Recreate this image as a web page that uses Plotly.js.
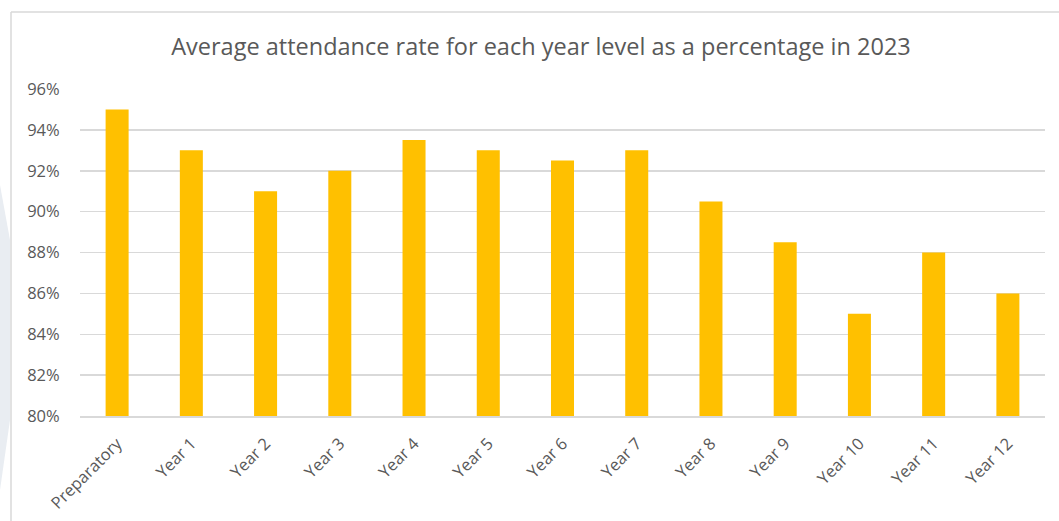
<!DOCTYPE html>
<html>
<head>
<meta charset="utf-8">
<script src="https://cdn.plot.ly/plotly-3.0.1.min.js"></script>
<style>html,body{margin:0;padding:0;background:#fff;}#chart{width:1059px;height:521px;}</style>
</head>
<body>
<div id="chart"></div>
<script>
const categories = ["Preparatory","Year 1","Year 2","Year 3","Year 4","Year 5","Year 6","Year 7","Year 8","Year 9","Year 10","Year 11","Year 12"];
const attendance = [0.95,0.93,0.91,0.92,0.935,0.93,0.925,0.93,0.905,0.885,0.85,0.88,0.86];
const yTicks = [0.80,0.82,0.84,0.86,0.88,0.90,0.92,0.94,0.96];
const titleText = "Average attendance rate for each year level as a percentage in 2023";

const W = 1059, H = 521;
const mL = 80, mR = 14, mT = 89, mB = 105;
const pw = W - mL - mR, ph = H - mT - mB;
function px(x){ return (x - mL) / pw; }
function py(y){ return (H - mB - y) / ph; }

const font = "'Open Sans', 'Noto Sans', sans-serif";

Plotly.newPlot("chart", [{
  type: "bar",
  x: categories,
  y: attendance,
  marker: {color: "#FFC000"},
  hoverinfo: "x+y"
}], {
  width: W, height: H,
  margin: {l: mL, r: mR, t: mT, b: mB, pad: 0},
  paper_bgcolor: "#ffffff",
  plot_bgcolor: "#ffffff",
  bargap: 0.69,
  showlegend: false,
  title: {
    text: titleText,
    font: {family: font, size: 23.5, color: "#595959"},
    x: px(541), xanchor: "center", xref: "paper",
    y: 1 - 47 / H, yanchor: "middle"
  },
  xaxis: {
    type: "category",
    tickangle: -45,
    tickfont: {family: font, size: 16.5, color: "#595959"},
    showgrid: false,
    showline: true, linecolor: "#d9d9d9", linewidth: 1.5,
    ticks: "outside", ticklen: 10, tickcolor: "rgba(0,0,0,0)",
    automargin: false
  },
  yaxis: {
    range: [0.80, 0.96],
    tickvals: yTicks,
    tickformat: ".0%",
    tickfont: {family: font, size: 16.5, color: "#595959"},
    showgrid: true, gridcolor: "#d9d9d9", gridwidth: 1.5,
    zeroline: false, showline: false,
    ticks: "outside", ticklen: 16, tickcolor: "rgba(0,0,0,0)",
    automargin: false
  },
  shapes: [
    {type: "path", xref: "paper", yref: "paper", layer: "below",
     path: `M ${px(0)},${py(185)} L ${px(10)},${py(240)} L ${px(10)},${py(420)} L ${px(0)},${py(490)} Z`,
     fillcolor: "#e9edf2", line: {width: 0}},
    {type: "line", xref: "paper", yref: "paper",
     x0: px(11), x1: px(1059), y0: py(12), y1: py(12),
     line: {color: "#d9d9d9", width: 1.5}},
    {type: "line", xref: "paper", yref: "paper",
     x0: px(11), x1: px(11), y0: py(12), y1: py(521),
     line: {color: "#d9d9d9", width: 1.5}}
  ]
}, {displayModeBar: false, staticPlot: true});
</script>
</body>
</html>
